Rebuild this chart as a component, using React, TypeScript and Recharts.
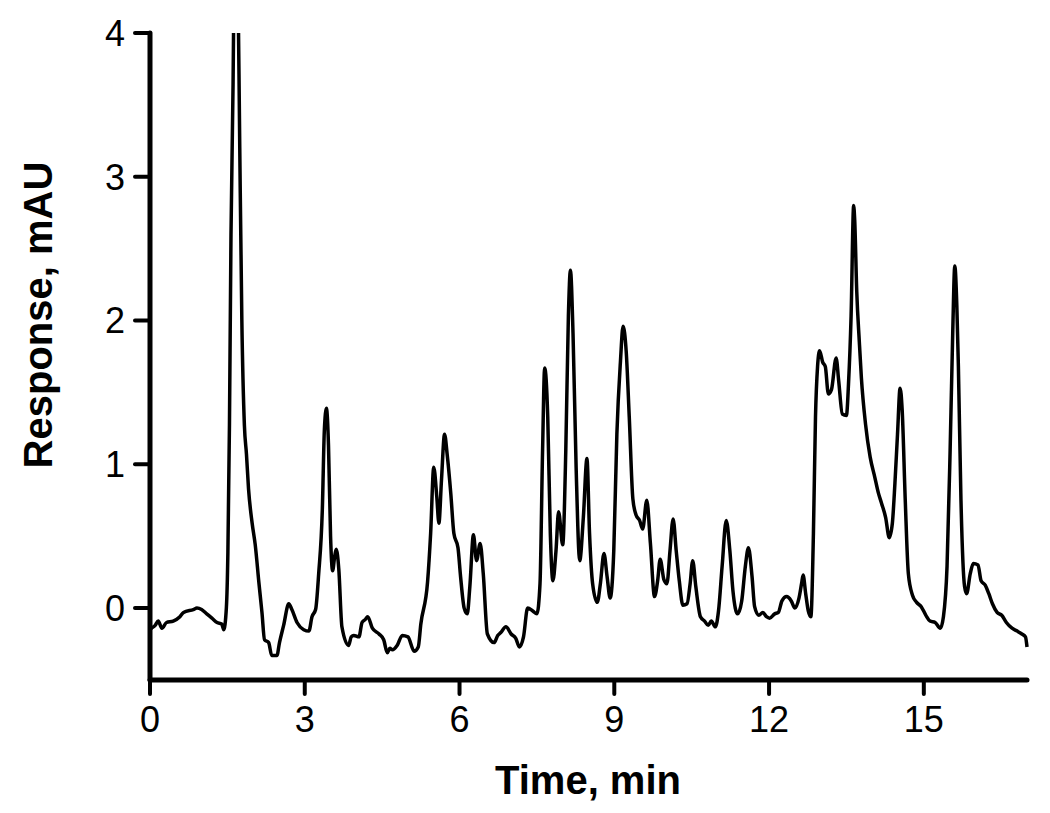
import { LineChart, Line, XAxis, YAxis } from "recharts";

// retention time (min)
const times = [
  0.0, 0.03, 0.1, 0.16, 0.23, 0.32, 0.45, 0.58, 0.65, 0.84, 0.91, 1.0, 1.1, 1.2, 1.3, 1.39, 1.43,
  1.48, 1.51, 1.54, 1.57, 1.61, 1.63, 1.66, 1.7, 1.74, 1.78, 1.83, 1.87, 1.91, 1.98, 2.04, 2.11,
  2.17, 2.22, 2.3, 2.36, 2.46, 2.51, 2.59, 2.69, 2.75, 2.85, 2.98, 3.08, 3.14, 3.21, 3.27, 3.34,
  3.38, 3.42, 3.46, 3.5, 3.54, 3.58, 3.61, 3.66, 3.72, 3.85, 3.9, 3.95, 4.05, 4.11, 4.17, 4.22,
  4.31, 4.44, 4.53, 4.6, 4.65, 4.7, 4.79, 4.89, 5.0, 5.12, 5.2, 5.25, 5.38, 5.44, 5.5, 5.56,
  5.6, 5.65, 5.71, 5.76, 5.83, 5.89, 5.97, 6.02, 6.09, 6.15, 6.2, 6.27, 6.33, 6.4, 6.46, 6.54,
  6.67, 6.74, 6.8, 6.9, 7.0, 7.09, 7.16, 7.24, 7.32, 7.42, 7.5, 7.56, 7.61, 7.65, 7.71, 7.76,
  7.81, 7.87, 7.92, 8.0, 8.06, 8.11, 8.15, 8.2, 8.26, 8.33, 8.4, 8.47, 8.52, 8.58, 8.67, 8.73,
  8.8, 8.86, 8.92, 8.99, 9.05, 9.12, 9.17, 9.23, 9.29, 9.36, 9.42, 9.49, 9.55, 9.63, 9.7, 9.78,
  9.84, 9.89, 9.96, 10.02, 10.08, 10.14, 10.2, 10.26, 10.33, 10.41, 10.47, 10.52, 10.58, 10.67,
  10.75, 10.82, 10.88, 10.96, 11.02, 11.09, 11.17, 11.24, 11.3, 11.39, 11.47, 11.54, 11.6, 11.67,
  11.72, 11.8, 11.88, 11.95, 12.01, 12.11, 12.18, 12.25, 12.34, 12.43, 12.5, 12.58, 12.63, 12.66,
  12.71, 12.76, 12.81, 12.86, 12.9, 12.94, 12.98, 13.04, 13.09, 13.15, 13.21, 13.3, 13.35, 13.42,
  13.5, 13.54, 13.59, 13.64, 13.66, 13.7, 13.75, 13.79, 13.87, 13.96, 14.05, 14.12, 14.18, 14.26,
  14.33, 14.39, 14.44, 14.49, 14.54, 14.58, 14.64, 14.7, 14.78, 14.86, 14.95, 15.04, 15.12, 15.22,
  15.32, 15.38, 15.45, 15.51, 15.56, 15.6, 15.64, 15.67, 15.72, 15.79, 15.83, 15.9, 15.96, 16.05,
  16.11, 16.19, 16.26, 16.33, 16.42, 16.51, 16.6, 16.71, 16.81, 16.9, 16.97, 17.0,
];

// detector response (mAU), same order as times
const response = [
  -0.15, -0.14, -0.12, -0.09, -0.14, -0.1, -0.09, -0.06, -0.03, -0.01, 0.0, -0.01, -0.04, -0.07, -0.1, -0.11, -0.15,
  0.0, 0.39, 1.27, 2.6, 3.64, 4.4, 5.0, 4.5, 3.2, 2.01, 1.27, 1.07, 0.83, 0.59, 0.44, 0.18,
  -0.03, -0.22, -0.24, -0.33, -0.33, -0.24, -0.12, 0.03, -0.01, -0.1, -0.15, -0.16, -0.06, -0.01, 0.24, 0.68,
  1.24, 1.39, 1.13, 0.5, 0.26, 0.36, 0.41, 0.27, -0.13, -0.26, -0.2, -0.19, -0.2, -0.1, -0.08, -0.06,
  -0.14, -0.18, -0.22, -0.31, -0.28, -0.29, -0.26, -0.19, -0.2, -0.3, -0.27, -0.11, 0.18, 0.52, 0.98, 0.77,
  0.59, 0.89, 1.21, 1.07, 0.8, 0.52, 0.42, 0.22, 0.0, -0.04, 0.15, 0.51, 0.33, 0.45, 0.24, -0.18,
  -0.24, -0.19, -0.17, -0.13, -0.18, -0.21, -0.27, -0.2, 0.0, -0.02, -0.04, 0.17, 1.1, 1.67, 1.33, 0.52,
  0.19, 0.4, 0.67, 0.44, 1.1, 2.03, 2.35, 1.91, 0.98, 0.33, 0.63, 1.04, 0.52, 0.17, 0.04, 0.17,
  0.38, 0.22, 0.07, 0.4, 1.21, 1.72, 1.96, 1.79, 1.33, 0.76, 0.65, 0.61, 0.55, 0.75, 0.45, 0.08,
  0.19, 0.34, 0.2, 0.17, 0.4, 0.62, 0.4, 0.19, 0.02, 0.03, 0.17, 0.33, 0.15, -0.06,
  -0.09, -0.12, -0.09, -0.13, -0.02, 0.29, 0.61, 0.4, 0.12, -0.04, 0.05, 0.29, 0.42, 0.22,
  0.01, -0.05, -0.03, -0.06, -0.07, -0.04, -0.03, 0.05, 0.08, 0.05, 0.0, 0.07, 0.17, 0.23,
  0.1, -0.02, -0.06, 0.52, 1.33, 1.68, 1.79, 1.71, 1.68, 1.49, 1.52, 1.74, 1.58, 1.35,
  1.34, 1.56, 2.03, 2.8, 2.7, 2.2, 1.85, 1.6, 1.28, 1.05, 0.91, 0.8, 0.73, 0.63,
  0.49, 0.59, 0.87, 1.21, 1.53, 1.38, 0.75, 0.24, 0.09, 0.04, 0.01, -0.05, -0.09, -0.1,
  -0.14, -0.06, 0.29, 1.1, 1.91, 2.38, 2.1, 1.68, 0.75, 0.15, 0.1, 0.24, 0.31, 0.3,
  0.19, 0.16, 0.1, 0.03, -0.03, -0.05, -0.1, -0.14, -0.16, -0.18, -0.2, -0.27,
];

const xTicks = [0, 3, 6, 9, 12, 15];
const yTicks = [0, 1, 2, 3, 4];

const data = times.map((t, i) => ({ t, r: response[i] }));

const FONT = "'Liberation Sans', Arial, sans-serif";

export default function App() {
  return (
    <div style={{ position: "absolute", left: 0, top: 0, background: "#fff" }}>
      <LineChart width={1050} height={813} data={data} margin={{ top: 33, right: 23, left: 0, bottom: 0 }}>
        <XAxis
          dataKey="t"
          type="number"
          domain={[0, 17]}
          ticks={xTicks}
          height={133}
          stroke="#000"
          axisLine={{ stroke: "#000", strokeWidth: 5, strokeLinecap: "round" }}
          tickLine={{ stroke: "#000", strokeWidth: 4, strokeLinecap: "round" }}
          tickSize={14}
          tickMargin={12}
          tick={{ fill: "#000", fontSize: 36, fontFamily: FONT }}
          label={{
            content: () => (
              <text x={588} y={794} textAnchor="middle" fontSize={40} fontWeight="bold" fontFamily={FONT} fill="#000">
                Time, min
              </text>
            ),
          }}
        />
        <YAxis
          type="number"
          domain={[-0.5, 4]}
          ticks={yTicks}
          allowDataOverflow
          width={150}
          stroke="#000"
          axisLine={{ stroke: "#000", strokeWidth: 5, strokeLinecap: "round" }}
          tickLine={{ stroke: "#000", strokeWidth: 4, strokeLinecap: "round" }}
          tickSize={15}
          tickMargin={10}
          tick={{ fill: "#000", fontSize: 36, fontFamily: FONT }}
          label={{
            content: () => (
              <text
                x={52}
                y={315}
                transform="rotate(-90, 52, 315)"
                textAnchor="middle"
                fontSize={40}
                fontWeight="bold"
                fontFamily={FONT}
                fill="#000"
              >
                Response, mAU
              </text>
            ),
          }}
        />
        <Line
          type="monotone"
          dataKey="r"
          stroke="#000"
          strokeWidth={3.5}
          dot={false}
          activeDot={false}
          isAnimationActive={false}
        />
      </LineChart>
    </div>
  );
}
